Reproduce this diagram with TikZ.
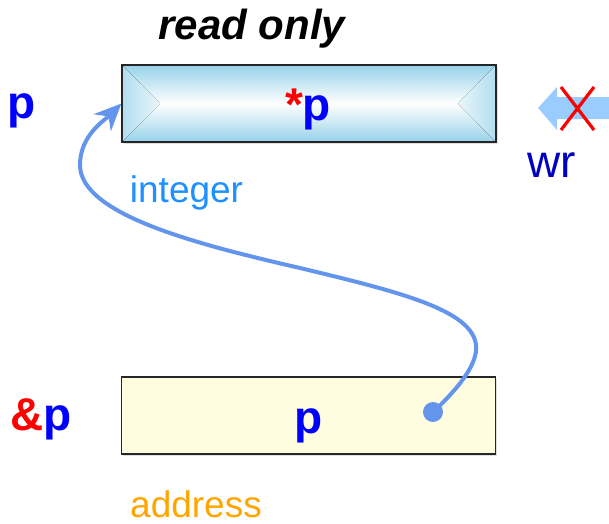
\documentclass[tikz,border=0pt]{standalone}
\usepackage{fontspec}
\setmainfont{Liberation Sans}
\usetikzlibrary{arrows.meta,shadows}

\definecolor{bevelblue}{RGB}{150,210,234}
\definecolor{addrfill}{RGB}{255,253,224}
\definecolor{linkblue}{RGB}{100,149,237}
\definecolor{wrblue}{RGB}{0,0,190}
\definecolor{intblue}{RGB}{30,144,255}
\definecolor{addrorange}{RGB}{255,165,0}
\definecolor{wrarrow}{RGB}{153,204,255}

\tikzset{
    membox/.style={draw=black!85, line width=1.2pt, minimum width=374pt,
        minimum height=77pt, inner sep=0pt,
        drop shadow={shadow xshift=1.5pt, shadow yshift=-1.5pt, opacity=0.25, fill=gray}},
    bevelfill/.style={path picture={
        \fill[top color=bevelblue, bottom color=bevelblue, middle color=white]
            (path picture bounding box.south west) rectangle (path picture bounding box.north east);
        \fill[left color=bevelblue!75, right color=bevelblue!20]
            (path picture bounding box.north west) -- ([xshift=38pt]path picture bounding box.west)
            -- (path picture bounding box.south west) -- cycle;
        \fill[right color=bevelblue!75, left color=bevelblue!20]
            (path picture bounding box.north east) -- ([xshift=-38pt]path picture bounding box.east)
            -- (path picture bounding box.south east) -- cycle;
    }},
    bigtxt/.style={font=\fontsize{46}{50}\selectfont\bfseries, text=blue, inner sep=0pt, anchor=base},
    note/.style={font=\fontsize{37}{40}\selectfont, inner sep=0pt, anchor=base},
    dot/.style={circle, fill=linkblue, minimum size=20pt, inner sep=0pt},
    link/.style={draw=linkblue, line width=4pt, -{Stealth[length=27pt, width=24pt]}},
}

\begin{document}
\begin{tikzpicture}[x=1pt, y=-1pt]
\useasboundingbox (0,0) rectangle (609,523);

% ---- memory cells ----
\node[membox, bevelfill] (val) at (309,103.5) {};
\node[membox, fill=addrfill] (ptr) at (308.5,415.5) {};

% ---- names and contents ----
\node[note, font=\fontsize{42}{46}\selectfont\bfseries\itshape] (ro) at (252,39) {read only};
\node[bigtxt] (pname) at (22,118) {p};
\node[bigtxt] (pval) at (308,120) {\textcolor{red}{*}p};
\node[bigtxt] (aname) at (41,430) {\textcolor{red}{\&}p};
\node[bigtxt] (aval) at (308.5,433) {p};
\node[note, text=intblue] (tint) at (186.5,202) {integer};
\node[note, text=addrorange] (taddr) at (196,517) {address};
\node[note, text=wrblue, font=\fontsize{46}{50}\selectfont] (twr) at (552,177) {wr};

% ---- blocked write ----
\fill[wrarrow] (538,108) -- (557,87) -- (557,97) -- (609,97) -- (609,119)
    -- (557,119) -- (557,130) -- cycle;
\draw[red, line width=3.2pt] (561,87) -- (594,130) (594,87) -- (561,130);

% ---- pointer link ----
\draw[link] (433,412) .. controls (462,385) and (478,362) .. (476,345)
    .. controls (472,310) and (400,292) .. (300,268)
    .. controls (200,245) and (80,215) .. (80,165)
    .. controls (80,135) and (105,120) .. (val.west);
\node[dot] (src) at (433,412) {};

\end{tikzpicture}
\end{document}
